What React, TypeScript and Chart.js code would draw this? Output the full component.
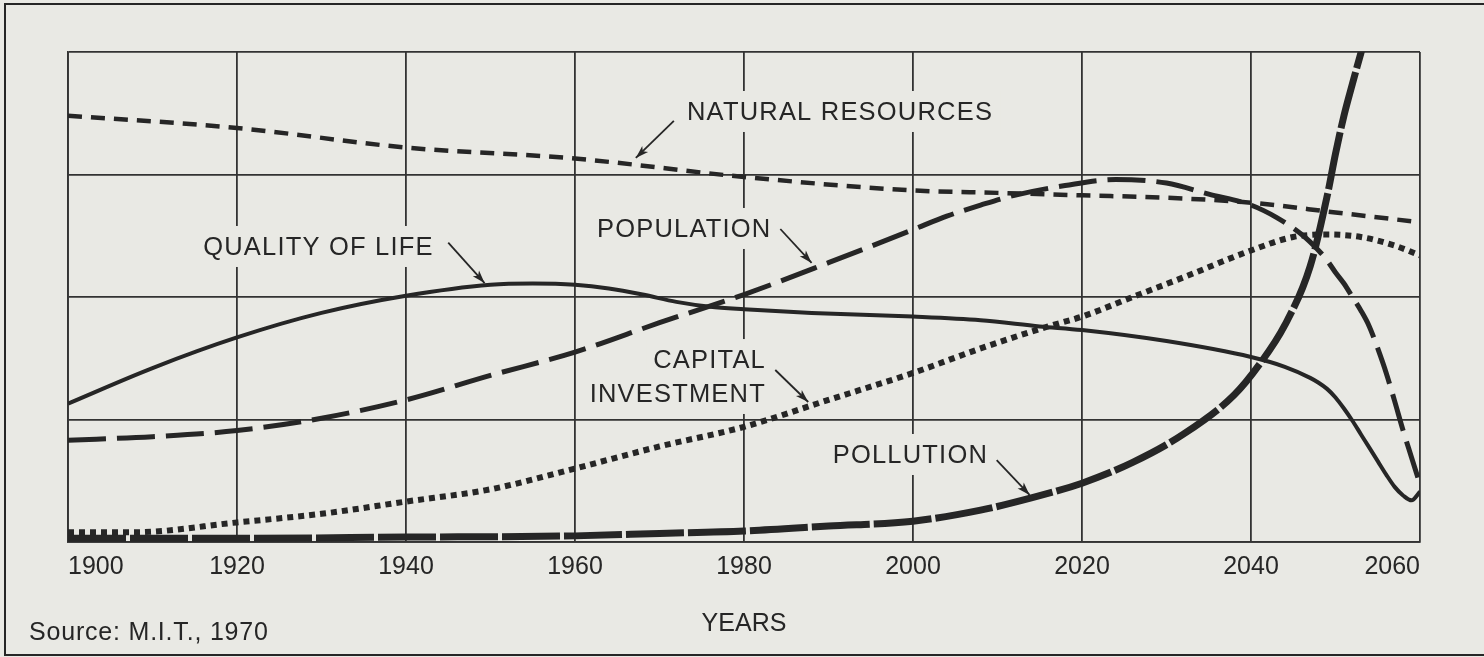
import React, { useEffect, useRef } from "react";
import { Chart, registerables } from "chart.js";

Chart.register(...registerables);

// ---------- data ----------
const yearTicks = [1900, 1920, 1940, 1960, 1980, 2000, 2020, 2040, 2060];

const naturalResourcesYears = [1900, 1920, 1940, 1960, 1980, 2000, 2010, 2020, 2030, 2040, 2050, 2060];
const naturalResourcesValues = [3.48, 3.38, 3.22, 3.13, 2.98, 2.87, 2.85, 2.83, 2.81, 2.77, 2.69, 2.61];

const populationYears = [1900, 1910, 1920, 1930, 1940, 1950, 1960, 1970, 1980, 1990, 2000, 2004, 2008, 2012, 2018, 2024, 2030, 2035, 2040, 2043, 2046, 2048, 2049, 2050, 2051, 2052, 2053, 2054, 2055, 2056, 2057, 2058, 2059, 2060];
const populationValues = [0.83, 0.86, 0.91, 1.01, 1.16, 1.36, 1.55, 1.79, 2.02, 2.28, 2.55, 2.66, 2.75, 2.83, 2.91, 2.96, 2.93, 2.84, 2.75, 2.65, 2.51, 2.38, 2.3, 2.2, 2.11, 2.0, 1.89, 1.76, 1.58, 1.38, 1.15, 0.91, 0.69, 0.47];

const qualityYears = [1900, 1910, 1920, 1930, 1940, 1950, 1955, 1960, 1964, 1968, 1972, 1976, 1980, 1988, 2000, 2008, 2015, 2020, 2030, 2040, 2044, 2047, 2048, 2049, 2050, 2051, 2052, 2053, 2054, 2055, 2056, 2057, 2058, 2059, 2060];
const qualityValues = [1.13, 1.42, 1.67, 1.87, 2.01, 2.1, 2.11, 2.1, 2.07, 2.02, 1.96, 1.92, 1.9, 1.87, 1.84, 1.81, 1.76, 1.73, 1.64, 1.51, 1.43, 1.34, 1.3, 1.25, 1.18, 1.09, 0.99, 0.88, 0.77, 0.66, 0.55, 0.45, 0.38, 0.34, 0.41];

const capitalYears = [1900, 1908, 1920, 1930, 1940, 1950, 1960, 1970, 1980, 1990, 2000, 2008, 2016, 2020, 2026, 2032, 2040, 2045, 2049, 2053, 2057, 2060];
const capitalValues = [0.08, 0.08, 0.16, 0.23, 0.33, 0.43, 0.6, 0.78, 0.94, 1.16, 1.38, 1.58, 1.76, 1.84, 2.0, 2.16, 2.38, 2.49, 2.51, 2.49, 2.42, 2.34];

const pollutionYears = [1900, 1920, 1940, 1960, 1970, 1980, 1990, 2000, 2008, 2014, 2020, 2026, 2032, 2038, 2041, 2044, 2047, 2049, 2050, 2051, 2052, 2053, 2054];
const pollutionValues = [0.03, 0.03, 0.04, 0.05, 0.07, 0.09, 0.13, 0.17, 0.26, 0.36, 0.48, 0.65, 0.88, 1.2, 1.45, 1.77, 2.25, 2.82, 3.17, 3.48, 3.74, 3.99, 4.22];

const xAxisTitle = "YEARS";
const sourceNote = "Source: M.I.T., 1970";

// ---------- styling / layout ----------
const INK = "#262626";
const GRID = "#333333";
const PAPER = "#e9e9e4";
const FONT = "'Liberation Sans', Arial, Helvetica, sans-serif";

type Note = {
  text: string;
  year: number;
  value: number;
  align: "left" | "right";
  arrow?: [number, number, number, number];
};

// label anchors in data coordinates (year, value); baseline of the text
const notes: Note[] = [
  { text: "NATURAL RESOURCES", year: 1973.25, value: 3.445, align: "left", arrow: [1971.7, 3.437, 1967.2, 3.135] },
  { text: "POPULATION", year: 1962.6, value: 2.49, align: "left", arrow: [1984.3, 2.555, 1988.0, 2.278] },
  { text: "QUALITY OF LIFE", year: 1916.0, value: 2.343, align: "left", arrow: [1945.0, 2.444, 1949.3, 2.114] },
  { text: "CAPITAL", year: 1982.6, value: 1.42, align: "right", arrow: [1983.7, 1.404, 1987.6, 1.143] },
  { text: "INVESTMENT", year: 1982.6, value: 1.143, align: "right" },
  { text: "POLLUTION", year: 1990.5, value: 0.645, align: "left", arrow: [2009.9, 0.669, 2013.8, 0.384] },
];

const toPoints = (xs: number[], ys: number[]) => xs.map((x, i) => ({ x, y: ys[i] }));

function drawArrow(ctx: CanvasRenderingContext2D, x1: number, y1: number, x2: number, y2: number) {
  ctx.beginPath();
  ctx.moveTo(x1, y1);
  ctx.lineTo(x2, y2);
  ctx.lineWidth = 1.8;
  ctx.strokeStyle = INK;
  ctx.stroke();
  const a = Math.atan2(y2 - y1, x2 - x1);
  const len = 13;
  const half = 4.2;
  const c = Math.cos(a);
  const s = Math.sin(a);
  ctx.beginPath();
  ctx.moveTo(x2, y2);
  ctx.lineTo(x2 - len * c + half * s, y2 - len * s - half * c);
  ctx.lineTo(x2 - len * c * 0.75, y2 - len * s * 0.75);
  ctx.lineTo(x2 - len * c - half * s, y2 - len * s + half * c);
  ctx.closePath();
  ctx.fillStyle = INK;
  ctx.fill();
}

const paperPlugin = {
  id: "paper",
  beforeDraw(chart: any) {
    const { ctx, width, height } = chart;
    ctx.save();
    ctx.fillStyle = PAPER;
    ctx.fillRect(0, 0, width, height);
    ctx.strokeStyle = INK;
    ctx.lineWidth = 2;
    ctx.strokeRect(5, 4, width + 10, height - 6);
    ctx.restore();
  },
  afterDraw(chart: any) {
    const { ctx } = chart;
    ctx.save();
    ctx.font = `25px ${FONT}`;
    (ctx as any).letterSpacing = "0.8px";
    ctx.fillStyle = INK;
    ctx.textAlign = "left";
    ctx.textBaseline = "alphabetic";
    ctx.fillText(sourceNote, 29, 640);
    ctx.restore();
  },
};

const notesPlugin = {
  id: "notes",
  beforeDatasetsDraw(chart: any) {
    const { ctx } = chart;
    const xs = chart.scales.x;
    const ys = chart.scales.y;
    ctx.save();
    ctx.font = `25.5px ${FONT}`;
    (ctx as any).letterSpacing = "1.2px";
    ctx.textAlign = "left";
    ctx.textBaseline = "alphabetic";
    for (const n of notes) {
      const x = xs.getPixelForValue(n.year);
      const y = ys.getPixelForValue(n.value);
      const w = ctx.measureText(n.text).width;
      const left = n.align === "right" ? x - w : x;
      ctx.fillStyle = PAPER;
      ctx.fillRect(left - 7, y - 29, w + 14, 41);
      ctx.fillStyle = INK;
      ctx.fillText(n.text, left, y);
    }
    for (const n of notes) {
      if (!n.arrow) continue;
      const [ax1, ay1, ax2, ay2] = n.arrow;
      drawArrow(ctx, xs.getPixelForValue(ax1), ys.getPixelForValue(ay1), xs.getPixelForValue(ax2), ys.getPixelForValue(ay2));
    }
    ctx.restore();
  },
};

export default function App() {
  const ref = useRef<HTMLCanvasElement | null>(null);

  useEffect(() => {
    document.body.style.margin = "0";
    document.body.style.background = PAPER;
    const canvas = ref.current;
    if (!canvas) return;
    const line = { pointRadius: 0, fill: false, borderColor: INK, cubicInterpolationMode: "monotone" as const, borderCapStyle: "butt" as const };
    const chart = new Chart(canvas, {
      type: "line",
      data: {
        datasets: [
          { ...line, label: "Natural resources", data: toPoints(naturalResourcesYears, naturalResourcesValues), borderWidth: 4.5, borderDash: [14, 9] },
          { ...line, label: "Population", data: toPoints(populationYears, populationValues), borderWidth: 5, borderDash: [38, 11] },
          { ...line, label: "Quality of life", data: toPoints(qualityYears, qualityValues), borderWidth: 4 },
          { ...line, label: "Capital investment", data: toPoints(capitalYears, capitalValues), borderWidth: 6, borderDash: [6, 5] },
          { ...line, label: "Pollution", data: toPoints(pollutionYears, pollutionValues), borderWidth: 7, borderDash: [58, 4] },
        ],
      },
      options: {
        responsive: false,
        animation: false,
        events: [],
        layout: { padding: { left: 68, top: 52, right: 64, bottom: 0 } },
        plugins: { legend: { display: false }, tooltip: { enabled: false }, title: { display: false } },
        scales: {
          x: {
            type: "linear",
            min: 1900,
            max: 2060,
            afterFit: (s: any) => {
              s.height = 115;
            },
            afterBuildTicks: (s: any) => {
              s.ticks = yearTicks.map((v) => ({ value: v }));
            },
            grid: { color: GRID, lineWidth: 1.8, drawTicks: false },
            border: { color: GRID, width: 1.8 },
            ticks: {
              align: "inner",
              padding: 10,
              color: INK,
              maxRotation: 0,
              autoSkip: false,
              font: { family: FONT, size: 25 },
              callback: (v: any) => String(v),
            },
            title: {
              display: true,
              text: xAxisTitle,
              color: INK,
              font: { family: FONT, size: 25 },
              padding: { top: 0, bottom: 18 },
            },
          },
          y: {
            min: 0,
            max: 4,
            afterFit: (s: any) => {
              s.width = 0;
            },
            ticks: { display: false, stepSize: 1 },
            grid: { color: GRID, lineWidth: 1.8, drawTicks: false },
            border: { color: GRID, width: 1.8 },
          },
        },
      },
      plugins: [paperPlugin, notesPlugin],
    } as any);
    return () => chart.destroy();
  }, []);

  return (
    <div style={{ width: 1484, height: 657, position: "relative" }}>
      <canvas ref={ref} width={1484} height={657} style={{ display: "block" }} />
    </div>
  );
}
